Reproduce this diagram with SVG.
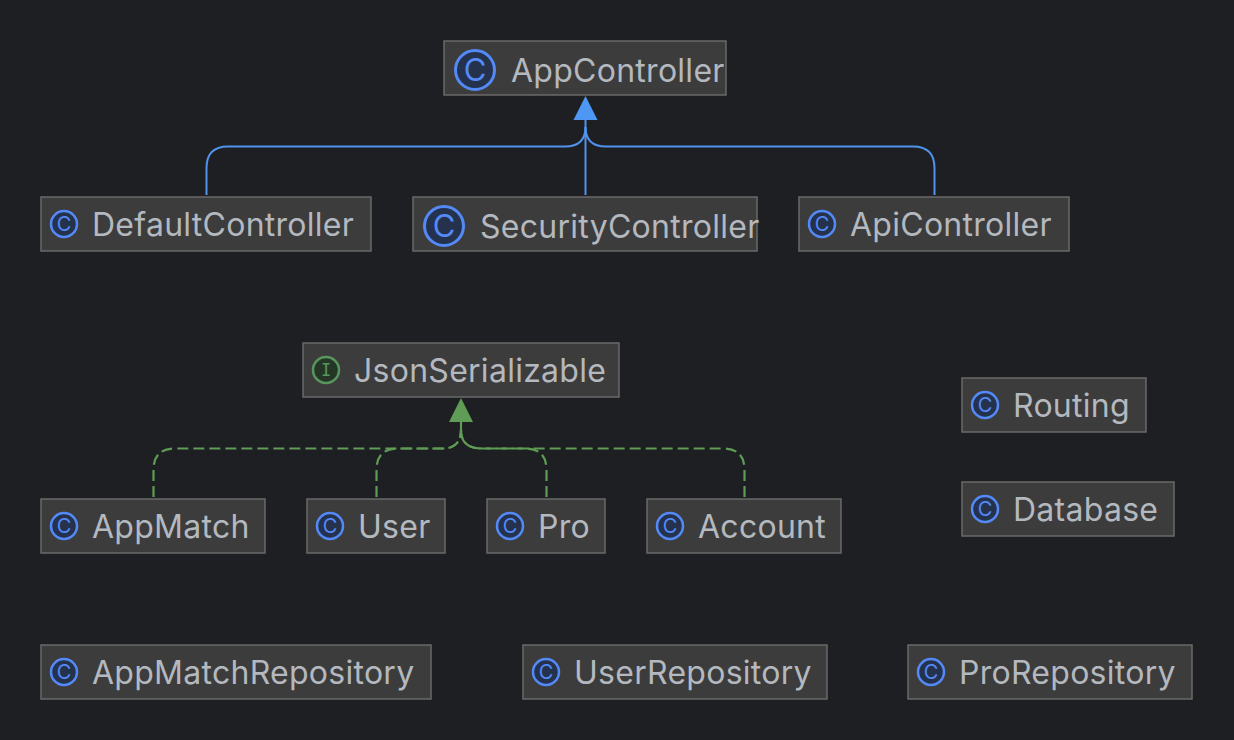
<svg xmlns="http://www.w3.org/2000/svg" width="1234" height="740" viewBox="0 0 1234 740">
<style>
.box{fill:#3c3c3c;stroke:#6a6a6a;stroke-width:1.5}
.lbl{font-family:Inter,"Liberation Sans",sans-serif;font-size:32px;letter-spacing:.27px;fill:#b4b8bf}
.ic{fill:#25324d;stroke:#548af7;stroke-width:2.5}
.ic2{fill:#25324d;stroke:#548af7;stroke-width:3}
.il{font-family:Inter,"Liberation Sans",sans-serif;font-size:20px;fill:#548af7;text-anchor:middle}
.il2{font-family:Inter,"Liberation Sans",sans-serif;font-size:31px;fill:#548af7;text-anchor:middle}
.ii{fill:#253627;stroke:#57965c;stroke-width:2.5}
.iil{font-family:"DejaVu Sans Mono",monospace;font-size:17px;fill:#57965c;text-anchor:middle}
.ext{fill:none;stroke:#4f93ec;stroke-width:2}
.impl{fill:none;stroke:#5f9c55;stroke-width:2.2;stroke-dasharray:11 5}
</style>
<rect width="1234" height="740" fill="#1e1f22"/>
<g id="connectors">
<path class="ext" d="M585.500 120V195"/>
<path class="ext" d="M206.500 195V168Q206.500 146.500 228 146.500H565Q585.500 146.500 585.500 127"/>
<path class="ext" d="M934.500 195V168Q934.500 146.500 913 146.500H606Q585.500 146.500 585.500 127"/>
<path d="M573.500 120L585.500 96L597.500 120Z" fill="#4f97f5"/>
<path class="impl" d="M153.500 497V470Q153.500 448.500 175 448.500H446Q461 446 461 430"/>
<path class="impl" d="M376.500 497V470Q376.500 448.500 398 448.500H446Q461 446 461 430"/>
<path class="impl" d="M546.500 497V470Q546.500 448.500 525 448.500H482Q461 448.500 461 430"/>
<path class="impl" d="M744.500 497V470Q744.500 448.500 723 448.500H482Q461 448.500 461 430"/>
<path d="M461 422V437" fill="none" stroke="#5f9c55" stroke-width="2.200"/>
<path d="M449 422L461 398L473 422Z" fill="#5f9c55"/>
</g>
<g id="AppController"><rect class="box" x="444" y="41" width="282" height="54"/><circle class="ic2" cx="475" cy="70" r="19.500"/><text class="il2" x="475" y="81">C</text><text class="lbl" x="511" y="82">AppController</text></g>
<g id="DefaultController"><rect class="box" x="41" y="197" width="330" height="54"/><circle class="ic" cx="64" cy="224" r="13"/><text class="il" x="64" y="231">C</text><text class="lbl" x="92" y="236">DefaultController</text></g>
<g id="SecurityController"><rect class="box" x="413" y="197" width="344" height="54"/><circle class="ic2" cx="444" cy="226" r="19.500"/><text class="il2" x="444" y="237">C</text><text class="lbl" x="480" y="238">SecurityController</text></g>
<g id="ApiController"><rect class="box" x="799" y="197" width="270" height="54"/><circle class="ic" cx="822" cy="224" r="13"/><text class="il" x="822" y="231">C</text><text class="lbl" x="850" y="236">ApiController</text></g>
<g id="JsonSerializable"><rect class="box" x="303" y="343" width="316" height="54"/><circle class="ii" cx="326" cy="370" r="13"/><text class="iil" x="326" y="376">I</text><text class="lbl" x="354" y="382">JsonSerializable</text></g>
<g id="Routing"><rect class="box" x="962" y="378" width="184" height="54"/><circle class="ic" cx="985" cy="405" r="13"/><text class="il" x="985" y="412">C</text><text class="lbl" x="1013" y="417">Routing</text></g>
<g id="Database"><rect class="box" x="962" y="482" width="212" height="54"/><circle class="ic" cx="985" cy="509" r="13"/><text class="il" x="985" y="516">C</text><text class="lbl" x="1013" y="521">Database</text></g>
<g id="AppMatch"><rect class="box" x="41" y="499" width="224" height="54"/><circle class="ic" cx="64" cy="526" r="13"/><text class="il" x="64" y="533">C</text><text class="lbl" x="92" y="538">AppMatch</text></g>
<g id="User"><rect class="box" x="307" y="499" width="138" height="54"/><circle class="ic" cx="330" cy="526" r="13"/><text class="il" x="330" y="533">C</text><text class="lbl" x="358" y="538">User</text></g>
<g id="Pro"><rect class="box" x="487" y="499" width="118" height="54"/><circle class="ic" cx="510" cy="526" r="13"/><text class="il" x="510" y="533">C</text><text class="lbl" x="538" y="538">Pro</text></g>
<g id="Account"><rect class="box" x="647" y="499" width="194" height="54"/><circle class="ic" cx="670" cy="526" r="13"/><text class="il" x="670" y="533">C</text><text class="lbl" x="698" y="538">Account</text></g>
<g id="AppMatchRepository"><rect class="box" x="41" y="645" width="390" height="54"/><circle class="ic" cx="64" cy="672" r="13"/><text class="il" x="64" y="679">C</text><text class="lbl" x="92" y="684">AppMatchRepository</text></g>
<g id="UserRepository"><rect class="box" x="523" y="645" width="304" height="54"/><circle class="ic" cx="546" cy="672" r="13"/><text class="il" x="546" y="679">C</text><text class="lbl" x="574" y="684">UserRepository</text></g>
<g id="ProRepository"><rect class="box" x="908" y="645" width="284" height="54"/><circle class="ic" cx="931" cy="672" r="13"/><text class="il" x="931" y="679">C</text><text class="lbl" x="959" y="684">ProRepository</text></g>
</svg>
